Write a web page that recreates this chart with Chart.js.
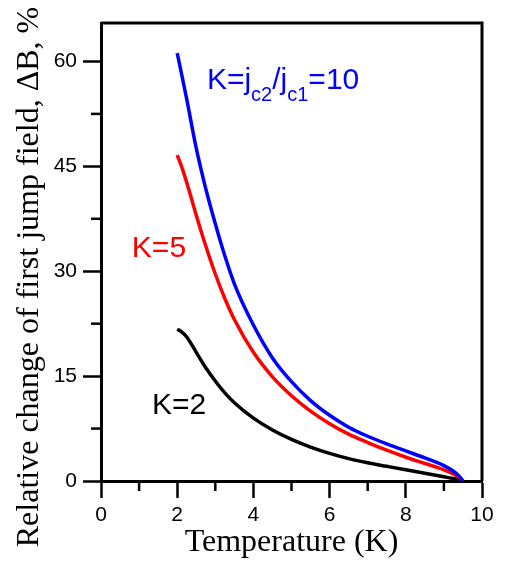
<!DOCTYPE html>
<html>
<head>
<meta charset="utf-8">
<script src="https://cdn.jsdelivr.net/npm/chart.js@4.4.0/dist/chart.umd.min.js"></script>
<style>
  html, body { margin: 0; padding: 0; background: #fff; }
  #wrap { width: 508px; height: 562px; }
</style>
</head>
<body>
<div id="wrap"><canvas id="jumpChart"></canvas></div>
<script>
// temperature grid (K) shared by the three curves
const temperature = [2.0, 2.1, 2.25, 2.5, 2.75, 3.0, 3.25, 3.5, 4.0, 4.5, 5.0, 5.5, 6.0, 6.5, 7.0, 7.5, 8.0, 8.5, 9.0, 9.25, 9.4, 9.5];
// relative change of first jump field, %
const deltaK10 = [61.2, 58.6, 54.6, 47.6, 41.8, 36.8, 32.2, 28.2, 22.3, 17.6, 14.2, 11.5, 9.4, 7.7, 6.4, 5.3, 4.3, 3.3, 2.2, 1.4, 0.7, 0.0];
const deltaK5 = [46.6, 45.2, 42.7, 38.0, 33.6, 29.6, 26.1, 23.1, 18.4, 14.9, 12.2, 10.0, 8.2, 6.7, 5.5, 4.4, 3.4, 2.5, 1.6, 1.0, 0.5, 0.0];
const deltaK2 = [21.7, 21.4, 20.6, 18.4, 16.2, 14.3, 12.6, 11.2, 9.0, 7.3, 5.95, 4.85, 3.95, 3.2, 2.6, 2.1, 1.6, 1.1, 0.6, 0.35, 0.15, 0.0];

const xMinorTicks = [1, 3, 5, 7, 9];
const yMinorTicks = [7.5, 22.5, 37.5, 52.5];

const blue = '#0000ff';
const red = '#ff0000';
const black = '#000000';
const sans = '"Liberation Sans", Arial, sans-serif';
const serif = '"Liberation Serif", "Times New Roman", serif';

function toPoints(ys) {
    return temperature.map((t, i) => ({ x: t, y: ys[i] }));
}

const decorPlugin = {
    id: 'decor',
    afterDraw(chart) {
        const ctx = chart.ctx;
        const area = chart.chartArea;
        const xs = chart.scales.x;
        const ys = chart.scales.y;
        ctx.save();

        // frame on top and right
        ctx.strokeStyle = black;
        ctx.lineWidth = 3;
        ctx.beginPath();
        ctx.moveTo(area.left, area.top);
        ctx.lineTo(area.right, area.top);
        ctx.lineTo(area.right, area.bottom);
        ctx.stroke();

        // minor ticks
        ctx.lineWidth = 2.5;
        xMinorTicks.forEach(v => {
            const px = xs.getPixelForValue(v);
            ctx.beginPath();
            ctx.moveTo(px, area.bottom);
            ctx.lineTo(px, area.bottom + 10);
            ctx.stroke();
        });
        yMinorTicks.forEach(v => {
            const py = ys.getPixelForValue(v);
            ctx.beginPath();
            ctx.moveTo(area.left, py);
            ctx.lineTo(area.left - 10, py);
            ctx.stroke();
        });

        // curve labels
        ctx.textBaseline = 'alphabetic';
        ctx.textAlign = 'left';
        let x = xs.getPixelForValue(2.78);
        const y = ys.getPixelForValue(56.1);
        const parts = [['K=j', false], ['c2', true], ['/j', false], ['c1', true], ['=10', false]];
        ctx.fillStyle = blue;
        parts.forEach(([txt, sub]) => {
            ctx.font = (sub ? '20px ' : '30px ') + sans;
            ctx.fillText(txt, x, sub ? y + 12 : y);
            x += ctx.measureText(txt).width;
        });

        ctx.font = '30px ' + sans;
        ctx.fillStyle = red;
        ctx.fillText('K=5', xs.getPixelForValue(0.81), ys.getPixelForValue(32));
        ctx.fillStyle = black;
        ctx.fillText('K=2', xs.getPixelForValue(1.34), ys.getPixelForValue(9.6));

        // y axis title
        ctx.translate(30, 277);
        ctx.rotate(-Math.PI / 2);
        ctx.textAlign = 'center';
        ctx.textBaseline = 'middle';
        ctx.font = '32px ' + serif;
        ctx.fillText('Relative change of first jump field, \u0394B, %', 0, 0);
        ctx.restore();
    }
};

const lineStyle = {
    borderWidth: 3.5,
    pointRadius: 0,
    fill: false,
    cubicInterpolationMode: 'monotone'
};

new Chart(document.getElementById('jumpChart').getContext('2d'), {
    type: 'line',
    data: {
        datasets: [
            { label: 'K=10', data: toPoints(deltaK10), borderColor: blue, ...lineStyle },
            { label: 'K=5', data: toPoints(deltaK5), borderColor: red, ...lineStyle },
            { label: 'K=2', data: toPoints(deltaK2), borderColor: black, ...lineStyle }
        ]
    },
    options: {
        responsive: true,
        maintainAspectRatio: false,
        animation: false,
        layout: { padding: { top: 23, right: 26, left: 0, bottom: 0 } },
        plugins: {
            legend: { display: false },
            tooltip: { enabled: false }
        },
        scales: {
            x: {
                type: 'linear',
                min: 0,
                max: 10,
                afterFit: scale => { scale.height = 81; },
                border: { display: true, width: 3, color: black },
                grid: { drawOnChartArea: false, drawTicks: true, tickLength: 17, tickWidth: 2.5, tickColor: black },
                ticks: { stepSize: 2, color: black, padding: 5, font: { family: sans, size: 21 } },
                title: {
                    display: true,
                    text: 'Temperature (K)',
                    color: black,
                    font: { family: serif, size: 32 },
                    padding: { top: 0, bottom: 0 }
                }
            },
            y: {
                min: 0,
                max: 65.5,
                afterFit: scale => { scale.width = 101; },
                border: { display: true, width: 3, color: black },
                grid: { drawOnChartArea: false, drawTicks: true, tickLength: 18, tickWidth: 2.5, tickColor: black },
                ticks: { stepSize: 15, includeBounds: false, color: black, padding: 6, font: { family: sans, size: 21 } }
            }
        }
    },
    plugins: [decorPlugin]
});
</script>
</body>
</html>
